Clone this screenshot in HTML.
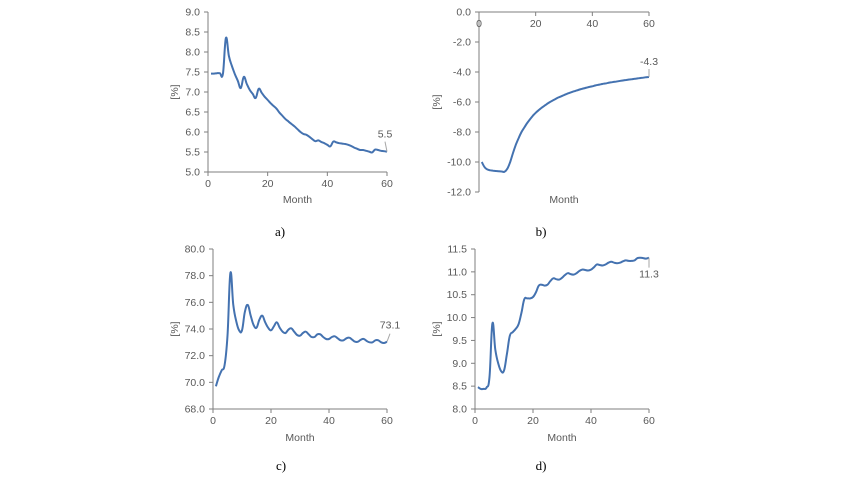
<!DOCTYPE html>
<html><head><meta charset="utf-8">
<style>
body{margin:0;background:#fff;width:850px;height:478px;overflow:hidden}
svg{display:block}
text{font-family:"Liberation Sans",sans-serif;fill:#595959;font-size:10.5px}
.cap{font-family:"Liberation Serif",serif;fill:#000;font-size:13px}
</style></head><body>
<svg id="s" width="850" height="478"></svg>
<script>
const months = Array.from({length:60},(_,i)=>i+1);
const seriesA = [7.46,7.46,7.47,7.47,7.45,8.35,7.9,7.65,7.45,7.28,7.1,7.38,7.2,7.05,6.95,6.85,7.08,6.98,6.88,6.8,6.72,6.65,6.58,6.48,6.4,6.32,6.26,6.2,6.14,6.07,6.0,5.95,5.93,5.88,5.82,5.77,5.79,5.75,5.72,5.68,5.64,5.76,5.74,5.72,5.71,5.70,5.68,5.65,5.61,5.58,5.55,5.55,5.53,5.51,5.49,5.56,5.55,5.53,5.52,5.51];
const seriesB = [-10.0,-10.35,-10.5,-10.55,-10.58,-10.6,-10.62,-10.63,-10.65,-10.45,-10.0,-9.4,-8.85,-8.4,-8.0,-7.7,-7.4,-7.15,-6.92,-6.72,-6.55,-6.4,-6.26,-6.13,-6.01,-5.9,-5.8,-5.7,-5.62,-5.54,-5.46,-5.39,-5.32,-5.26,-5.2,-5.14,-5.09,-5.04,-4.99,-4.95,-4.9,-4.86,-4.82,-4.78,-4.75,-4.71,-4.68,-4.65,-4.62,-4.59,-4.56,-4.53,-4.5,-4.48,-4.45,-4.43,-4.4,-4.38,-4.35,-4.33];
const seriesC = [69.7,70.4,70.9,71.3,73.5,78.2,75.8,74.6,73.9,73.9,75.3,75.8,75.0,74.3,74.1,74.7,75.0,74.5,74.1,73.9,74.2,74.5,74.1,73.8,73.7,73.95,74.05,73.8,73.55,73.5,73.7,73.8,73.6,73.4,73.4,73.6,73.6,73.4,73.25,73.25,73.4,73.45,73.3,73.15,73.15,73.3,73.35,73.2,73.05,73.05,73.2,73.25,73.1,73.0,73.0,73.15,73.15,73.0,72.95,73.05];
const seriesD = [8.48,8.44,8.44,8.47,8.7,9.87,9.3,9.0,8.83,8.84,9.2,9.6,9.68,9.75,9.85,10.1,10.4,10.42,10.42,10.45,10.55,10.7,10.72,10.7,10.72,10.8,10.86,10.84,10.83,10.87,10.93,10.97,10.95,10.94,10.97,11.02,11.05,11.04,11.03,11.05,11.1,11.16,11.15,11.14,11.16,11.2,11.22,11.2,11.19,11.2,11.23,11.25,11.24,11.24,11.25,11.3,11.31,11.3,11.29,11.31];
const xTicks = [0,20,40,60];
const yTicksA = [5,5.5,6,6.5,7,7.5,8,8.5,9];
const yTicksB = [-12,-10,-8,-6,-4,-2,0];
const yTicksC = [68,70,72,74,76,78,80];
const yTicksD = [8,8.5,9,9.5,10,10.5,11,11.5];
const endLabels = ["5.5","-4.3","73.1","11.3"];

const NS="http://www.w3.org/2000/svg", svg=document.getElementById('s');
function mk(tag,attrs,parent){const e=document.createElementNS(NS,tag);for(const k in attrs)e.setAttribute(k,attrs[k]);(parent||svg).appendChild(e);return e;}
function smooth(p){
  let d='M'+p[0][0].toFixed(1)+','+p[0][1].toFixed(1);
  for(let i=0;i<p.length-1;i++){
    const p0=p[i-1]||p[i],p1=p[i],p2=p[i+1],p3=p[i+2]||p2,t=0.2;
    const c1=[p1[0]+(p2[0]-p0[0])*t,p1[1]+(p2[1]-p0[1])*t];
    const c2=[p2[0]-(p3[0]-p1[0])*t,p2[1]-(p3[1]-p1[1])*t];
    d+=' C'+c1.map(v=>v.toFixed(1))+' '+c2.map(v=>v.toFixed(1))+' '+p2.map(v=>v.toFixed(1));
  }
  return d;
}
function chart(o){
  const g=mk('g',{});
  
  
  const xs=v=>o.x0+(v-0)/60*(o.x1-o.x0);
  const ys=v=>o.yb+(v-o.ymin)/(o.ymax-o.ymin)*(o.yt-o.yb);
  const axisY = o.xAxisAt!==undefined? ys(o.xAxisAt): o.yb;
  const ya=mk('line',{x1:o.x0,y1:o.yt,x2:o.x0,y2:o.yb,stroke:'#7f7f7f','stroke-width':1},g);
  
  
  o.yt_.forEach(v=>{
    const y=ys(v);
    mk('line',{x1:o.x0-4,y1:y,x2:o.x0,y2:y,stroke:'#7f7f7f'},g);
    const t=mk('text',{x:o.x0-8,y:y+3.5,'text-anchor':'end'},g);
    t.textContent=v.toFixed(1);
    
    
  });
  const xa=mk('line',{x1:o.x0,y1:axisY,x2:o.x1,y2:axisY,stroke:'#7f7f7f'},g);
  
  
  xTicks.forEach(v=>{
    const x=xs(v);
    mk('line',{x1:x,y1:axisY,x2:x,y2:axisY+4,stroke:'#7f7f7f'},g);
    const t=mk('text',{x:x,y:axisY+15,'text-anchor':'middle'},g);
    t.textContent=v;
    
    
  });
  const yl=mk('text',{x:0,y:0,'text-anchor':'middle',transform:`translate(${o.ylx},${(o.yt+o.yb)/2}) rotate(-90)`},g);
  yl.textContent='[%]';
  
  
  const xl=mk('text',{x:(o.x0+o.x1)/2,y:o.mly,'text-anchor':'middle','font-size':'11.5'},g);
  xl.textContent='Month';
  
  
  const pts=months.map((m,i)=>[xs(m),ys(o.data[i])]);
  const pl=mk('path',{d:smooth(pts),fill:'none',stroke:'#4472b0','stroke-width':2,'stroke-linejoin':'round'},g);
  
  
  const ex=xs(60), ey=ys(o.data[59]);
  mk('line',{x1:ex,y1:ey,x2:ex+o.ldx,y2:ey+o.ldy,stroke:'#a6a6a6'},g);
  const el=mk('text',{x:ex+o.ldx+o.tdx,y:ey+o.ldy+o.tdy,'text-anchor':'middle'},g);
  el.textContent=o.lab;
  
  
  const c=mk('text',{x:o.capx,y:o.capy,'text-anchor':'middle',class:'cap'},g);
  c.textContent=o.cap;
  
  
}
chart({name:'chart-a',data:seriesA,x0:208,x1:387,yt:12,yb:172,ymin:5,ymax:9,yt_:yTicksA,ylx:178,mly:203,ldx:-2,ldy:-10,tdx:0,tdy:-4,lab:endLabels[0],cap:'a)',capx:280,capy:236});
chart({name:'chart-b',data:seriesB,x0:479,x1:649,yt:12,yb:192,ymin:-12,ymax:0,yt_:yTicksB,xAxisAt:0,ylx:440,mly:203,ldx:0,ldy:-8,tdx:0,tdy:-4,lab:endLabels[1],cap:'b)',capx:541,capy:236});
chart({name:'chart-c',data:seriesC,x0:213,x1:387,yt:249,yb:409,ymin:68,ymax:80,yt_:yTicksC,ylx:178,mly:441,ldx:3,ldy:-8,tdx:0,tdy:-5,lab:endLabels[2],cap:'c)',capx:281,capy:470});
chart({name:'chart-d',data:seriesD,x0:475,x1:649,yt:249,yb:409,ymin:8,ymax:11.5,yt_:yTicksD,ylx:440,mly:441,ldx:0,ldy:10,tdx:0,tdy:10,lab:endLabels[3],cap:'d)',capx:541,capy:470});
</script>
</body></html>
